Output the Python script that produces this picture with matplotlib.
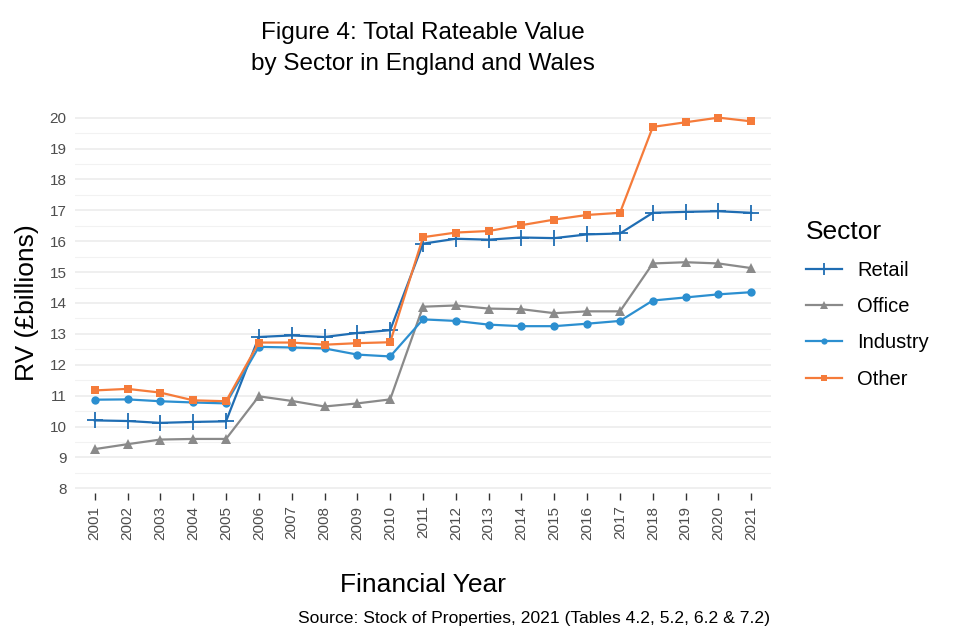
import numpy as np
import matplotlib
matplotlib.use("Agg")
import matplotlib.pyplot as plt
from matplotlib.lines import Line2D

plt.rcParams["font.family"] = ["Liberation Sans", "DejaVu Sans"]

years = list(range(2001, 2022))
retail = [10.20, 10.18, 10.12, 10.15, 10.17, 12.90, 12.95, 12.90, 13.03, 13.12,
          15.92, 16.08, 16.05, 16.12, 16.10, 16.22, 16.25, 16.92, 16.95, 16.97, 16.92]
office = [9.27, 9.43, 9.58, 9.60, 9.60, 10.98, 10.83, 10.65, 10.75, 10.88,
          13.88, 13.92, 13.82, 13.80, 13.67, 13.73, 13.73, 15.28, 15.32, 15.28, 15.13]
industry = [10.87, 10.88, 10.82, 10.78, 10.75, 12.58, 12.56, 12.53, 12.33, 12.27,
            13.47, 13.42, 13.30, 13.25, 13.25, 13.33, 13.42, 14.08, 14.18, 14.28, 14.35]
other = [11.17, 11.22, 11.10, 10.85, 10.82, 12.72, 12.72, 12.65, 12.70, 12.73,
         16.13, 16.28, 16.33, 16.52, 16.70, 16.85, 16.92, 19.70, 19.85, 20.00, 19.88]

sectors = ["Retail", "Office", "Industry", "Other"]
series = [retail, office, industry, other]
colors = ["#1f6db3", "#8a8a8a", "#2c8fd0", "#f57b3a"]
markers = ["+", "^", "o", "s"]
msizes = [11, 7, 6, 6]

fig = plt.figure(figsize=(9.6, 6.4), dpi=100)
ax = fig.add_axes([75 / 960, 1 - 493 / 640, (771 - 75) / 960, (493 - 113) / 640])

for s, vals, c, m, ms in zip(sectors, series, colors, markers, msizes):
    ax.plot(years, vals, color=c, marker=m, markersize=ms, linewidth=1.6,
            markeredgewidth=1.3 if m == "+" else 0, label=s)

ax.set_xlim(2000.4, 2021.6)
ax.set_ylim(7.85, 20.15)
ax.set_xticks(years)
ax.set_xticklabels([str(y) for y in years], rotation=90, fontsize=11, color="#4d4d4d")
ax.set_yticks(range(8, 21))
ax.set_yticks(np.arange(8.5, 20, 1), minor=True)
ax.tick_params(axis="y", length=0, labelsize=11, labelcolor="#4d4d4d", pad=6)
ax.tick_params(axis="y", which="minor", length=0)
ax.tick_params(axis="x", length=5, width=1, color="#333333", pad=4)
ax.grid(axis="y", which="major", color="#ebebeb", linewidth=1.1)
ax.grid(axis="y", which="minor", color="#f2f2f2", linewidth=0.8)
ax.set_axisbelow(True)
for sp in ax.spines.values():
    sp.set_visible(False)

ax.set_ylabel("RV (£billions)", fontsize=19, labelpad=8)
ax.set_xlabel("Financial Year", fontsize=19, labelpad=24)
fig.text(423 / 960, 1 - 33 / 640, "Figure 4: Total Rateable Value",
         ha="center", va="center", fontsize=17.5)
fig.text(423 / 960, 1 - 64 / 640, "by Sector in England and Wales",
         ha="center", va="center", fontsize=17.5)
fig.text(770 / 960, 1 - 619 / 640, "Source: Stock of Properties, 2021 (Tables 4.2, 5.2, 6.2 & 7.2)",
         ha="right", va="center", fontsize=12.6)

handles = [Line2D([], [], color=c, marker=m, markersize=ms * 0.75, linewidth=1.6,
                  markeredgewidth=1.3 if m == "+" else 0)
           for c, m, ms in zip(colors, markers, msizes)]
leg = fig.legend(handles, sectors, title="Sector", loc="upper left",
                 bbox_to_anchor=(788 / 960, 1 - 202 / 640), frameon=False,
                 fontsize=14.5, title_fontsize=19, handlelength=1.8,
                 labelspacing=0.85, handletextpad=0.75)
leg._legend_box.align = "left"

fig.savefig("out.png", dpi=100)
